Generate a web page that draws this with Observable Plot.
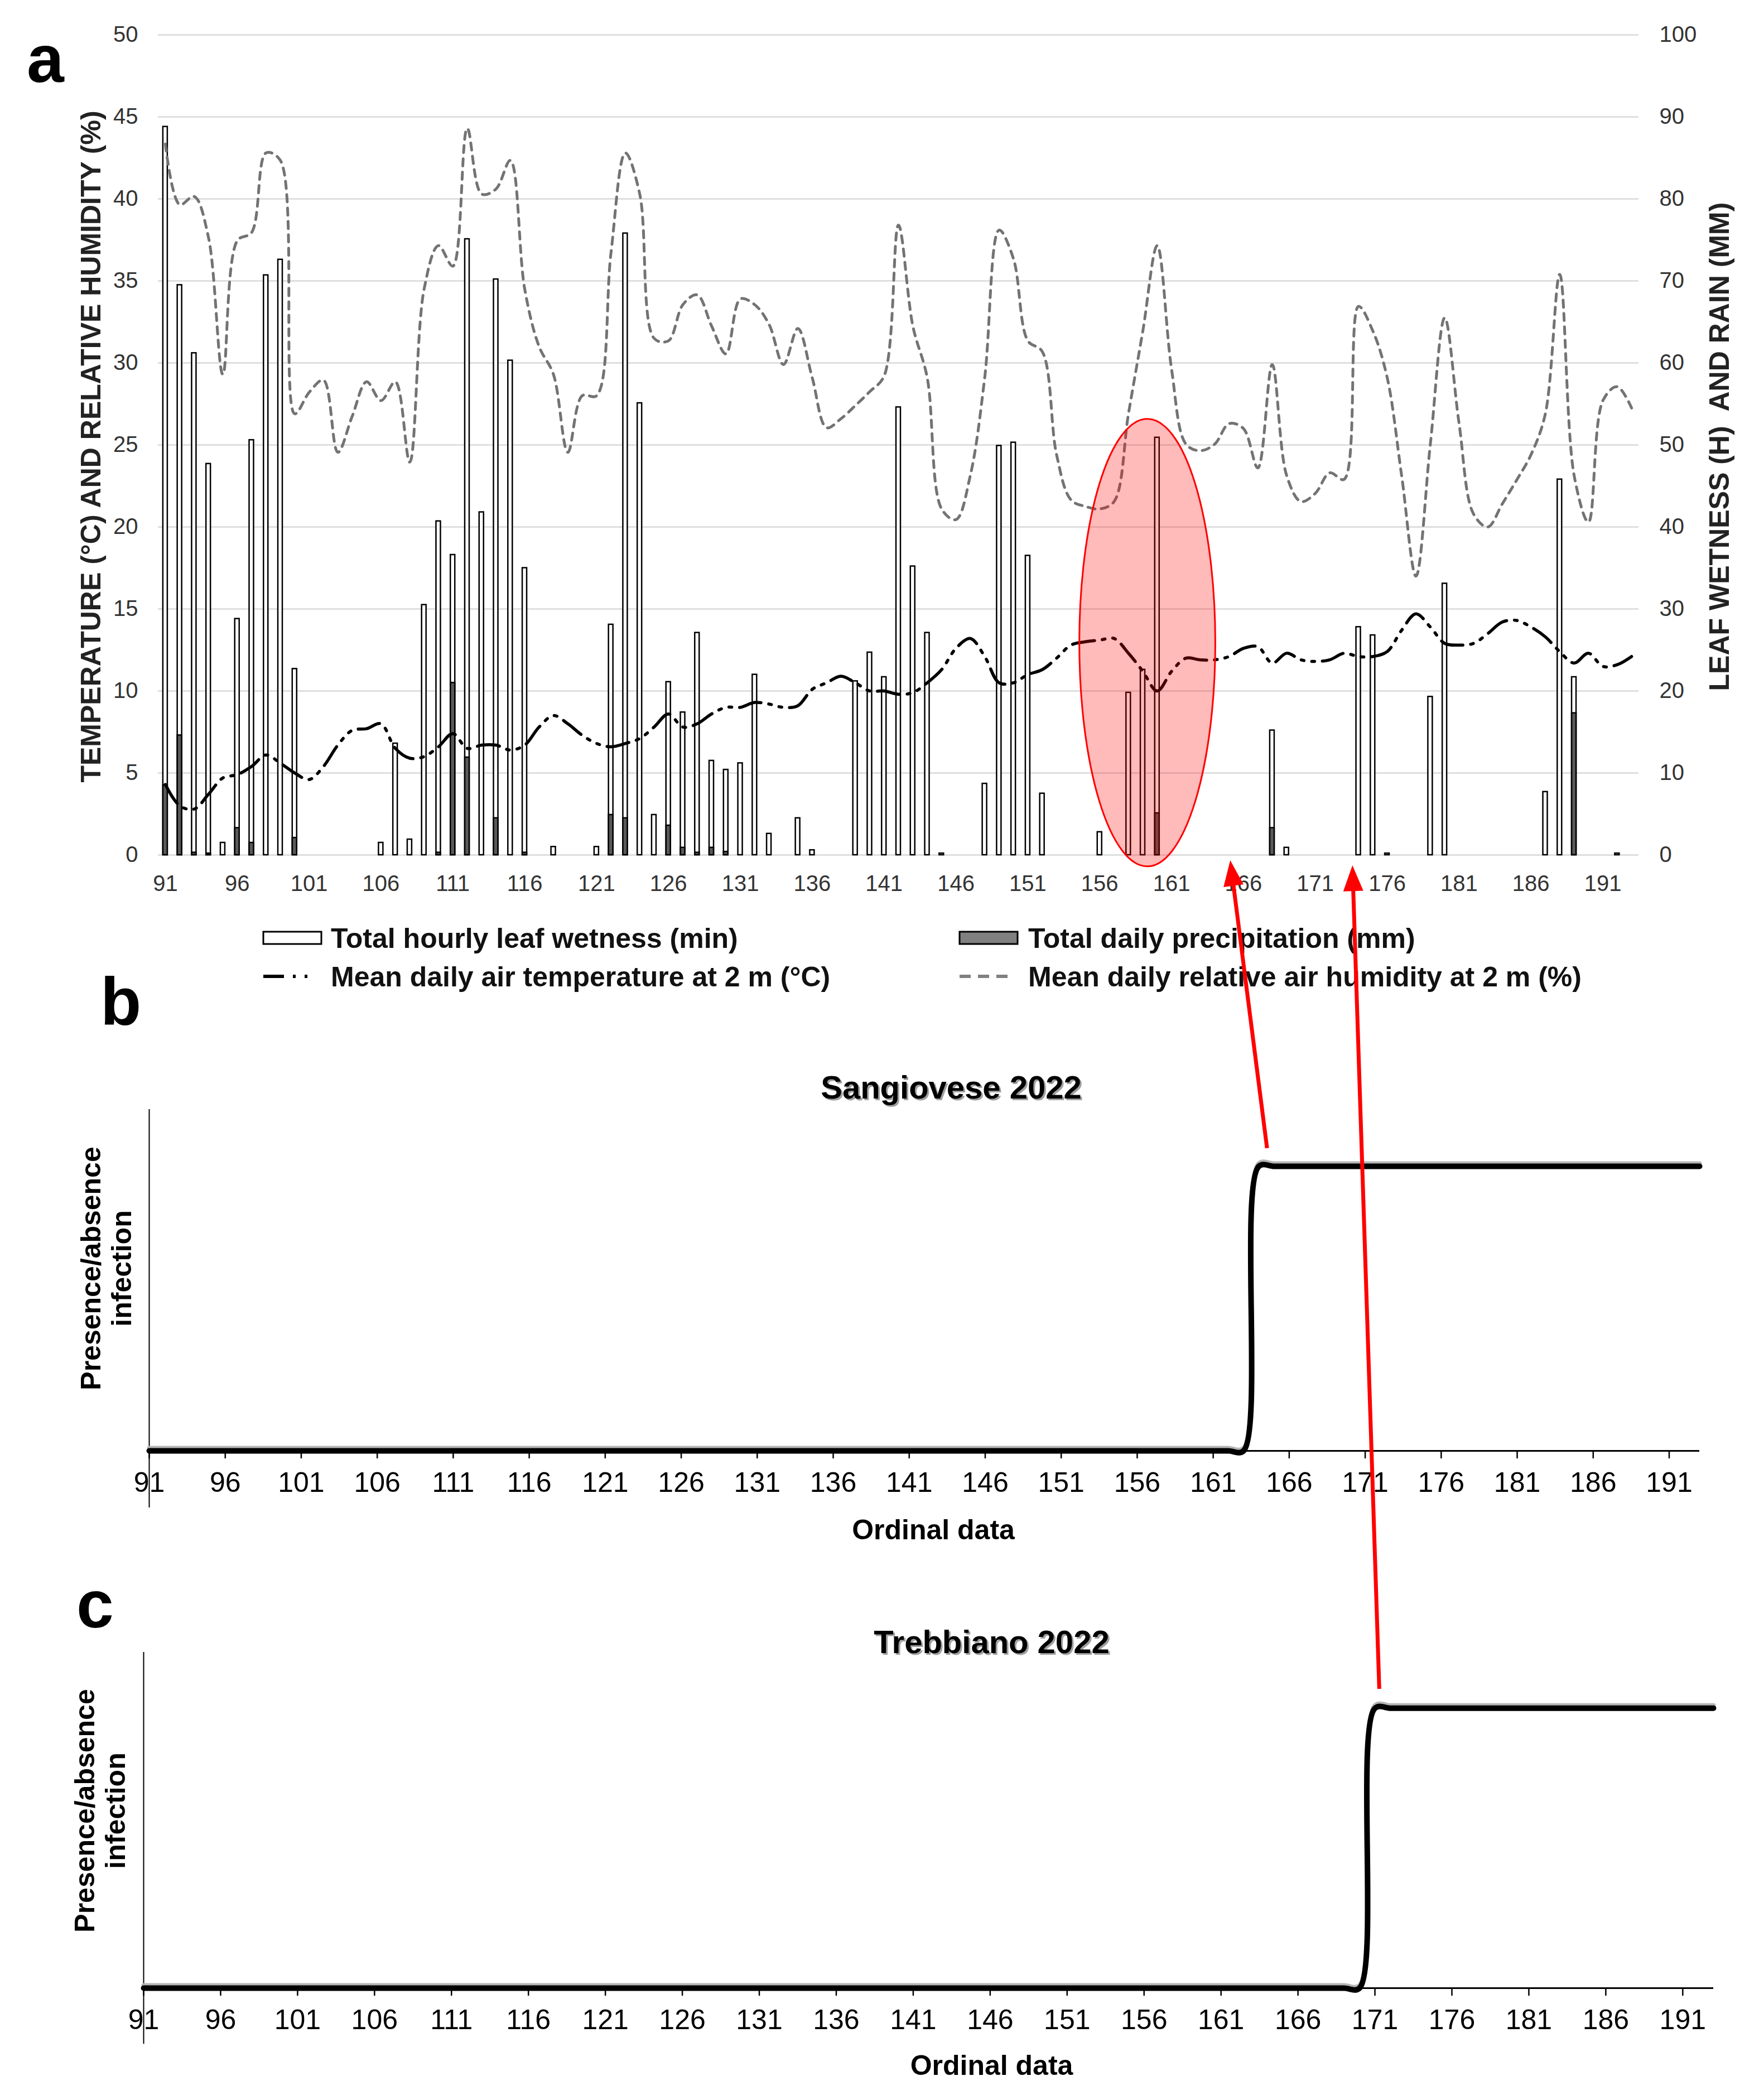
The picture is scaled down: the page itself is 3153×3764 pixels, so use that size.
<!DOCTYPE html>
<html>
<head>
<meta charset="utf-8">
<script src="https://cdn.jsdelivr.net/npm/d3@7"></script>
<script src="https://cdn.jsdelivr.net/npm/@observablehq/plot@0.6"></script>
<style>
  html, body { margin: 0; padding: 0; background: #fff; }
  #page { position: relative; width: 3153px; height: 3764px; background: #fff; overflow: hidden; }
  #page > svg, #page > div { position: absolute; left: 0; }
</style>
</head>
<body>
<div id="page"></div>
<script>
// ---------------- DATA ----------------
const firstDay = 91, lastDay = 193;
const days = d3.range(firstDay, lastDay + 1);            // ordinal days 91..193
const xTicks = [91, 96, 101, 106, 111, 116, 121, 126, 131, 136, 141, 146, 151, 156, 161, 166, 171, 176, 181, 186, 191];
const leftTicks = [0, 5, 10, 15, 20, 25, 30, 35, 40, 45, 50];   // °C / left axis

// Mean daily air temperature at 2 m (°C), days 91..193
const temperature = [
  4.3, 3.0, 2.8, 3.7, 4.7, 4.9, 5.4, 6.1, 5.6, 5.0,      // 91-100
  4.6, 5.4, 6.7, 7.6, 7.7, 8.0, 6.5, 5.9, 6.0, 6.6,      // 101-110
  7.4, 6.5, 6.7, 6.7, 6.4, 6.7, 7.8, 8.5, 8.0, 7.3,      // 111-120
  6.8, 6.6, 6.8, 7.1, 7.8, 8.6, 7.8, 8.0, 8.6, 9.0,      // 121-130
  9.0, 9.3, 9.2, 9.0, 9.1, 10.1, 10.5, 10.9, 10.5, 10.0, // 131-140
  10.0, 9.8, 9.9, 10.5, 11.3, 12.6, 13.2, 12.1, 10.5, 10.5, // 141-150
  11.0, 11.3, 12.0, 12.8, 13.0, 13.1, 13.2, 12.3, 11.2, 10.0, // 151-160
  11.2, 12.0, 11.9, 11.9, 12.1, 12.6, 12.7, 11.7, 12.3, 11.9, // 161-170
  11.8, 11.9, 12.3, 12.1, 12.1, 12.4, 13.7, 14.7, 13.9, 12.9, // 171-180
  12.8, 12.9, 13.5, 14.2, 14.3, 13.9, 13.3, 12.4, 11.7, 12.3, // 181-190
  11.5, 11.6, 12.1                                         // 191-193
];

// Mean daily relative air humidity at 2 m (%), days 91..193
const humidity = [
  86.7, 79.3, 80.3, 75.3, 58.6, 74.9, 75.9, 85.6, 84.7, 53.8,
  56.4, 57.9, 49.1, 53.5, 57.7, 55.4, 57.7, 47.9, 69.0, 74.3,
  71.8, 88.6, 80.6, 81.2, 84.7, 69.0, 62.0, 58.6, 49.1, 56.0,
  56.0, 73.4, 85.6, 80.6, 63.0, 62.7, 67.1, 68.3, 64.5, 61.1,
  67.8, 67.1, 64.7, 59.8, 64.2, 58.2, 52.1, 53.2, 54.8, 56.5,
  58.4, 76.8, 64.5, 58.2, 42.2, 40.9, 46.3, 58.2, 76.2, 72.7,
  62.7, 61.4, 48.8, 43.3, 42.5, 42.2, 43.1, 53.8, 63.9, 74.3,
  59.2, 50.1, 49.3, 50.1, 52.6, 52.0, 47.2, 59.8, 46.3, 43.1,
  44.1, 46.6, 45.8, 66.9, 63.9, 58.2, 46.3, 34.0, 50.1, 65.5,
  52.6, 41.6, 40.0, 42.8, 45.7, 48.8, 53.8, 70.8, 46.3, 40.6,
  55.4, 57.1, 54.5
];

// Total hourly leaf wetness (right axis, H)
const lwDays  = [91, 92, 93, 94, 95, 96, 97, 98, 99, 100, 106, 107, 108, 109, 110, 111, 112, 113, 114, 115, 116, 118, 121, 122, 123, 124, 125, 126, 127, 128, 129, 130, 131, 132, 133, 135, 136, 139, 140, 141, 142, 143, 144, 145, 148, 149, 150, 151, 152, 156, 158, 159, 160, 168, 169, 174, 175, 176, 179, 180, 187, 188, 189, 192];
const lwHours = [88.8, 69.5, 61.2, 47.7, 1.5, 28.8, 50.6, 70.7, 72.6, 22.7, 1.5, 13.6, 1.9, 30.5, 40.7, 36.6, 75.1, 41.8, 70.2, 60.3, 35.0, 1.0, 1.0, 28.1, 75.8, 55.1, 4.9, 21.1, 17.4, 27.1, 11.5, 10.4, 11.2, 22.0, 2.6, 4.5, 0.6, 21.2, 24.7, 21.7, 54.6, 35.2, 27.1, 0.2, 8.7, 49.9, 50.3, 36.5, 7.5, 2.8, 19.8, 22.6, 50.9, 15.2, 0.9, 27.8, 26.8, 0.2, 19.3, 33.1, 7.7, 45.8, 21.7, 0.2];

// Total daily precipitation (right axis, mm)
const rainDays = [91, 92, 93, 94, 96, 97, 100, 110, 111, 112, 114, 116, 122, 123, 126, 127, 128, 129, 130, 160, 168, 189];
const rainMm   = [8.5, 14.6, 0.3, 0.2, 3.3, 1.5, 2.1, 0.3, 21.0, 11.9, 4.5, 0.3, 4.9, 4.5, 3.6, 0.9, 0.3, 0.9, 0.4, 5.1, 3.3, 17.3];

// Presence (1) / absence (0) of infection, days 91..193
const sangiovese = [
  0,0,0,0,0,0,0,0,0,0,  0,0,0,0,0,0,0,0,0,0,  0,0,0,0,0,0,0,0,0,0,  0,0,0,0,0,0,0,0,0,0,
  0,0,0,0,0,0,0,0,0,0,  0,0,0,0,0,0,0,0,0,0,  0,0,0,0,0,0,0,0,0,0,  0,0,0,1,1,1,1,1,1,1,
  1,1,1,1,1,1,1,1,1,1,  1,1,1,1,1,1,1,1,1,1,  1,1,1
];
const trebbiano = [
  0,0,0,0,0,0,0,0,0,0,  0,0,0,0,0,0,0,0,0,0,  0,0,0,0,0,0,0,0,0,0,  0,0,0,0,0,0,0,0,0,0,
  0,0,0,0,0,0,0,0,0,0,  0,0,0,0,0,0,0,0,0,0,  0,0,0,0,0,0,0,0,0,0,  0,0,0,0,0,0,0,0,0,0,
  1,1,1,1,1,1,1,1,1,1,  1,1,1,1,1,1,1,1,1,1,  1,1,1
];

// Annotations (in data units)
const highlight = {day: 159.33, value: 12.93, halfDays: 4.73, halfValue: 13.64};
const arrows = [
  {from: "b", fromDay: 164.56, fromValue: 1.063, toDay: 165.1, toValue: -0.34},
  {from: "c", fromDay: 171.3,  fromValue: 1.068, toDay: 173.6, toValue: -0.65}
];

const legendItems = [
  {label: "Total hourly leaf wetness (min)", kind: "lw", row: 0, col: 0},
  {label: "Total daily precipitation (mm)", kind: "rain", row: 0, col: 1},
  {label: "Mean daily air temperature at 2 m (°C)", kind: "temp", row: 1, col: 0},
  {label: "Mean daily relative air humidity at 2 m  (%)", kind: "rh", row: 1, col: 1}
];

// ---------------- RENDER ----------------
const W = 3153;
const FONT = '"Liberation Sans", Arial, Helvetica, sans-serif';
const page = document.getElementById("page");
const NS = "http://www.w3.org/2000/svg";

const tempData = days.map((d, i) => ({day: d, v: temperature[i]}));
const rhData = days.map((d, i) => ({day: d, v: humidity[i]}));
const lwData = lwDays.map((d, i) => ({day: d, v: lwHours[i]}));
const rainData = rainDays.map((d, i) => ({day: d, v: rainMm[i]}));
const sData = days.map((d, i) => ({day: d, v: sangiovese[i]}));
const tData = days.map((d, i) => ({day: d, v: trebbiano[i]}));
const half = 0.155;

function ellipseMark(index, scales) {
  try {
    const x = scales.x, y = scales.y;
    const cx = x(highlight.day), cy = y(highlight.value);
    const rx = Math.abs(x(highlight.day + highlight.halfDays) - cx);
    const ry = Math.abs(y(highlight.value + highlight.halfValue) - cy);
    const el = document.createElementNS(NS, "ellipse");
    el.setAttribute("cx", cx); el.setAttribute("cy", cy);
    el.setAttribute("rx", rx); el.setAttribute("ry", ry);
    el.setAttribute("fill", "rgba(255,0,0,0.27)");
    el.setAttribute("stroke", "#ff0000");
    el.setAttribute("stroke-width", 3);
    return el;
  } catch (e) { return null; }
}

const plotA = Plot.plot({
  width: W, height: 1640,
  marginTop: 62, marginBottom: 108, marginLeft: 283, marginRight: 216,
  style: {fontFamily: FONT, background: "transparent", overflow: "visible", color: "#333"},
  x: {domain: [90.5, 193.5], axis: null},
  y: {domain: [0, 50], axis: null},
  marks: [
    Plot.gridY(leftTicks, {stroke: "#d9d9d9", strokeOpacity: 1, strokeWidth: 2.5}),
    Plot.rect(lwData, {x1: d => d.day - half, x2: d => d.day + half, y1: () => 0, y2: d => d.v / 2,
      fill: "white", stroke: "black", strokeWidth: 2.5}),
    Plot.rect(rainData, {x1: d => d.day - half, x2: d => d.day + half, y1: () => 0, y2: d => d.v / 2,
      fill: "#5a5a5a", stroke: "black", strokeWidth: 2.5}),
    Plot.line(rhData, {x: "day", y: d => d.v / 2, stroke: "#737373", strokeWidth: 5,
      strokeDasharray: "13,11", curve: "catmull-rom"}),
    Plot.line(tempData, {x: "day", y: "v", stroke: "black", strokeWidth: 5.5,
      strokeDasharray: "40,14,5,14,5,14", curve: "catmull-rom"}),
    ellipseMark,
    Plot.axisY({ticks: leftTicks, tickSize: 0, tickPadding: 36, fontSize: 40, label: null}),
    Plot.axisY({anchor: "right", ticks: leftTicks, tickFormat: d => String(d * 2), tickSize: 0, tickPadding: 37, fontSize: 40, label: null}),
    Plot.axisX({ticks: xTicks, tickSize: 0, tickPadding: 36, fontSize: 40, label: null}),
    Plot.text(["TEMPERATURE (°C) AND RELATIVE HUMIDITY (%)"], {frameAnchor: "left", text: d => d, rotate: -90,
      textAnchor: "middle", lineAnchor: "middle",
      dx: -120, dy: 3, fontSize: 50, fontWeight: "bold", fill: "#222"}),
    Plot.text(["LEAF WETNESS (H)  AND RAIN (MM)"], {frameAnchor: "right", text: d => d, rotate: -90,
      textAnchor: "middle", lineAnchor: "middle",
      dx: 145, dy: 3, fontSize: 50, fontWeight: "bold", fill: "#222"})
  ]
});
plotA.style.top = "0px";
page.appendChild(plotA);

function infectionPlot(data, title, opts) {
  return Plot.plot({
    width: W, height: opts.height,
    marginTop: opts.mt, marginBottom: opts.mb, marginLeft: opts.ml, marginRight: opts.mr,
    style: {fontFamily: FONT, background: "transparent", overflow: "visible", color: "black"},
    x: {domain: [firstDay, lastDay], axis: null},
    y: {domain: [0, 1.2], axis: null},
    marks: [
      Plot.ruleX([firstDay], {y1: -0.2, y2: 1.2, stroke: "black", strokeWidth: 2}),
      Plot.ruleY([0], {x1: firstDay, x2: lastDay, stroke: "black", strokeWidth: 3}),
      Plot.axisX({ticks: xTicks, tickSize: 14, tickPadding: 24, fontSize: 50, strokeWidth: 2.5, label: null}),
      Plot.line(data, {x: "day", y: "v", stroke: "#b5b5b5", strokeWidth: 8, dy: -5, curve: "catmull-rom"}),
      Plot.line(data, {x: "day", y: "v", stroke: "black", strokeWidth: 10, curve: "catmull-rom"}),
      Plot.text([title], {frameAnchor: "top", text: d => d, dx: opts.tdx + 3, dy: opts.tdy + 3,
        textAnchor: "middle", lineAnchor: "middle", fontSize: 58, fontWeight: "bold", fill: "#a0a0a0"}),
      Plot.text([title], {frameAnchor: "top", text: d => d, dx: opts.tdx, dy: opts.tdy,
        textAnchor: "middle", lineAnchor: "middle", fontSize: 58, fontWeight: "bold", fill: "black"}),
      Plot.text(["Presence/absence\ninfection"], {frameAnchor: "left", text: d => d, rotate: -90,
        textAnchor: "middle", lineAnchor: "middle",
        dx: opts.ydx, dy: opts.ydy, fontSize: 50, fontWeight: "bold", lineHeight: 1.1, fill: "black"}),
      Plot.text(["Ordinal data"], {frameAnchor: "bottom", text: d => d, dx: opts.xdx, dy: opts.xdy,
        textAnchor: "middle", lineAnchor: "middle", fontSize: 50, fontWeight: "bold", fill: "black"})
    ]
  });
}

const topB = 1800, topC = 2800;
const plotB = infectionPlot(sData, "Sangiovese 2022",
  {height: 1000, mt: 188, mb: 200, ml: 267, mr: 107, tdx: 48, tdy: -38, ydx: -78, ydy: -21, xdx: 16, xdy: 142});
plotB.style.top = topB + "px";
page.appendChild(plotB);

const plotC = infectionPlot(tData, "Trebbiano 2022",
  {height: 964, mt: 161, mb: 201, ml: 257, mr: 82, tdx: 113, tdy: -17, ydx: -79, ydy: -17, xdx: 113, xdy: 139});
plotC.style.top = topC + "px";
page.appendChild(plotC);

// ---------------- OVERLAY (panel letters, legend, arrows) ----------------
function lin(plot, ch) {
  const s = plot.scale(ch);
  const [d0, d1] = s.domain, [r0, r1] = s.range;
  return v => r0 + (v - d0) / (d1 - d0) * (r1 - r0);
}
const sx = {a: lin(plotA, "x"), b: lin(plotB, "x"), c: lin(plotC, "x")};
const sy = {a: lin(plotA, "y"), b: lin(plotB, "y"), c: lin(plotC, "y")};
const off = {a: 0, b: topB, c: topC};

const ov = d3.create("svg")
  .attr("width", W).attr("height", 3764)
  .attr("viewBox", `0 0 ${W} 3764`)
  .style("top", "0px").style("pointer-events", "none")
  .style("font-family", FONT);

// panel letters
[["a", 48, 147], ["b", 180, 1837], ["c", 137, 2917]].forEach(([t, x, y]) => {
  ov.append("text").attr("x", x).attr("y", y).attr("font-size", 120).attr("font-weight", "bold").attr("fill", "black").text(t);
});

// legend
const colSym = [472, 1720], colText = [593, 1843], rowY = [1681, 1750];
legendItems.forEach(it => {
  const x = colSym[it.col], y = rowY[it.row];
  const g = ov.append("g");
  if (it.kind === "lw" || it.kind === "rain") {
    g.append("rect").attr("x", x).attr("y", y - 11).attr("width", 104).attr("height", 22)
      .attr("fill", it.kind === "lw" ? "white" : "#808080").attr("stroke", "black").attr("stroke-width", 3);
  } else if (it.kind === "temp") {
    g.append("line").attr("x1", x).attr("x2", x + 100).attr("y1", y).attr("y2", y)
      .attr("stroke", "black").attr("stroke-width", 6).attr("stroke-dasharray", "37,16,5,16,5,30");
  } else {
    g.append("line").attr("x1", x).attr("x2", x + 86).attr("y1", y).attr("y2", y)
      .attr("stroke", "#808080").attr("stroke-width", 6).attr("stroke-dasharray", "20,13");
  }
  g.append("text").attr("x", colText[it.col]).attr("y", y).attr("dy", "0.36em")
    .attr("font-size", 50).attr("font-weight", "bold").attr("fill", "#111").text(it.label);
});

// arrows
arrows.forEach(a => {
  const x0 = sx[a.from](a.fromDay), y0 = off[a.from] + sy[a.from](a.fromValue);
  const x1 = sx.a(a.toDay), y1 = off.a + sy.a(a.toValue);
  const dx = x1 - x0, dy = y1 - y0, L = Math.hypot(dx, dy);
  const ux = dx / L, uy = dy / L, nx = -uy, ny = ux;
  const headLen = 46, hw = 18;
  const bx = x1 - ux * headLen, by = y1 - uy * headLen;
  ov.append("line").attr("x1", x0).attr("y1", y0).attr("x2", bx + ux * 4).attr("y2", by + uy * 4)
    .attr("stroke", "#ff0000").attr("stroke-width", 7);
  ov.append("polygon")
    .attr("points", `${x1},${y1} ${bx + nx * hw},${by + ny * hw} ${bx - nx * hw},${by - ny * hw}`)
    .attr("fill", "#ff0000");
});

page.appendChild(ov.node());
</script>
</body>
</html>
